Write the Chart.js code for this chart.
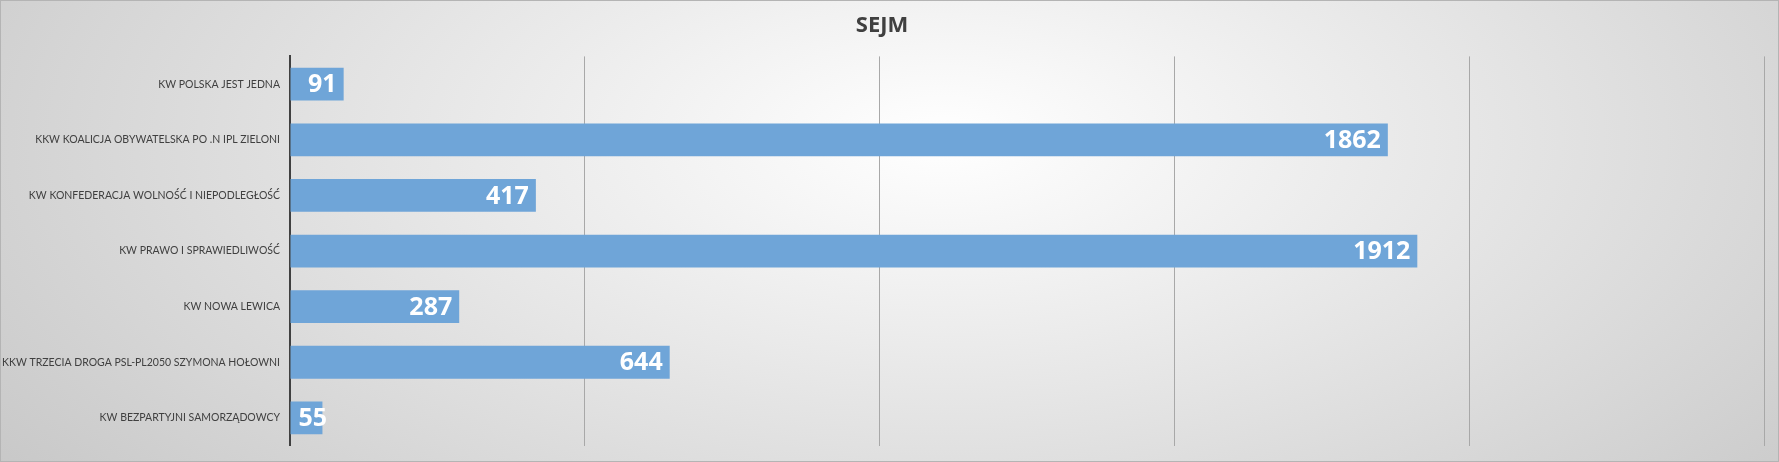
<!DOCTYPE html>
<html>
<head>
<meta charset="utf-8">
<script src="https://cdn.jsdelivr.net/npm/chart.js@4"></script>
<style>
  html, body { margin: 0; padding: 0; }
  #wrap {
    position: relative;
    width: 1779px;
    height: 462px;
    box-sizing: border-box;
    border: 1px solid #b4b4b4;
    background: radial-gradient(ellipse 75% 140% at 53% 30%, #ffffff 0%, #e6e6e6 40%, #c0c0c0 100%);
  }
  #chart { position: absolute; left: -1px; top: -1px; }
</style>
</head>
<body>
<div id="wrap"><canvas id="chart" width="1779" height="462"></canvas></div>
<script>
const partie = [
    'KW POLSKA JEST JEDNA',
    'KKW KOALICJA OBYWATELSKA PO .N IPL ZIELONI',
    'KW KONFEDERACJA WOLNOŚĆ I NIEPODLEGŁOŚĆ',
    'KW PRAWO I SPRAWIEDLIWOŚĆ',
    'KW NOWA LEWICA',
    'KKW TRZECIA DROGA PSL-PL2050 SZYMONA HOŁOWNI',
    'KW BEZPARTYJNI SAMORZĄDOWCY'
];
const glosy = [91, 1862, 417, 1912, 287, 644, 55];
const osX = [0, 500, 1000, 1500, 2000, 2500];

// etykiety z wartosciami na koncu slupka
const etykiety = {
    id: 'etykiety',
    afterDatasetsDraw(chart) {
        const ctx = chart.ctx;
        const meta = chart.getDatasetMeta(0);
        ctx.save();
        ctx.font = 'bold 25px "Open Sans"';
        ctx.fillStyle = '#ffffff';
        ctx.textAlign = 'right';
        ctx.textBaseline = 'middle';
        meta.data.forEach((bar, i) => {
            const txt = String(glosy[i]);
            const w = ctx.measureText(txt).width;
            const x = Math.max(bar.x - 7, bar.base + 8 + w);
            ctx.fillText(txt, x, bar.y + 1);
        });
        ctx.restore();
    }
};

new Chart(document.getElementById('chart'), {
    type: 'bar',
    data: {
        labels: partie,
        datasets: [{
            label: 'Sejm',
            data: glosy,
            backgroundColor: '#6fa5d8',
            borderWidth: 0,
            barPercentage: 0.59,
            categoryPercentage: 1
        }]
    },
    options: {
        indexAxis: 'y',
        responsive: false,
        animation: false,
        devicePixelRatio: 1,
        layout: { padding: { left: 0, right: 15, top: 0, bottom: 13 } },
        plugins: {
            legend: { display: false },
            tooltip: { enabled: false },
            title: {
                display: true,
                text: 'SEJM',
                color: '#404040',
                font: { family: 'Open Sans', size: 22, weight: 'bold', lineHeight: 1.2 },
                padding: { top: 13, bottom: 17 }
            }
        },
        scales: {
            x: {
                min: osX[0],
                max: osX[osX.length - 1],
                afterBuildTicks: s => { s.ticks = osX.map(v => ({ value: v })); },
                ticks: { display: false },
                grid: { color: '#a8a8a8', lineWidth: 1, drawTicks: false },
                border: { display: false }
            },
            y: {
                afterFit: s => { s.width = 290; },
                ticks: {
                    color: '#404040',
                    padding: 10,
                    font: { family: 'Lato', size: 10.5 }
                },
                grid: { display: false, drawTicks: false },
                border: { display: true, color: '#404040', width: 2 }
            }
        }
    },
    plugins: [etykiety]
});
</script>
</body>
</html>
